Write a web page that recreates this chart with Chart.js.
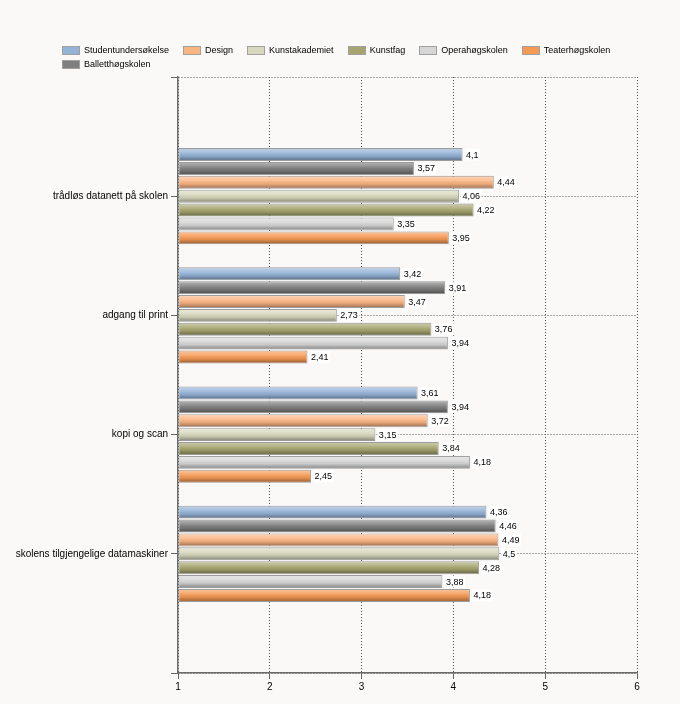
<!DOCTYPE html>
<html>
<head>
<meta charset="utf-8">
<script src="https://cdn.jsdelivr.net/npm/chart.js@4.4.1/dist/chart.umd.min.js"></script>
<style>
    body { margin: 0; background: #faf9f7; }
    #wrap { position: relative; width: 680px; height: 704px; }
    #legend {
        position: absolute; left: 62px; top: 43px;
        display: grid; grid-template-columns: repeat(6, auto); column-gap: 14px;
        font: 9px "Liberation Sans", Arial, sans-serif; color: #000;
    }
    #legend .item { display: flex; align-items: center; height: 14px; }
    #legend .box { width: 16px; height: 7px; border: 1px solid #a0a0a0; margin-right: 4px; }
</style>
</head>
<body>
<div id="wrap">
    <canvas id="chart" width="680" height="704"></canvas>
    <div id="legend"></div>
</div>
<script>
const categories = ['trådløs datanett på skolen', 'adgang til print', 'kopi og scan', 'skolens tilgjengelige datamaskiner'];
const seriesNames = ['Studentundersøkelse', 'Balletthøgskolen', 'Design', 'Kunstakademiet', 'Kunstfag', 'Operahøgskolen', 'Teaterhøgskolen'];
const studentundersokelse = [4.1, 3.42, 3.61, 4.36];
const balletthogskolen = [3.57, 3.91, 3.94, 4.46];
const design = [4.44, 3.47, 3.72, 4.49];
const kunstakademiet = [4.06, 2.73, 3.15, 4.5];
const kunstfag = [4.22, 3.76, 3.84, 4.28];
const operahogskolen = [3.35, 3.94, 4.18, 3.88];
const teaterhogskolen = [3.95, 2.41, 2.45, 4.18];
const xTicks = [1, 2, 3, 4, 5, 6];
const legendOrder = [0, 2, 3, 4, 5, 6, 1];

const seriesValues = [studentundersokelse, balletthogskolen, design, kunstakademiet, kunstfag, operahogskolen, teaterhogskolen];
const seriesColors = ['#95b3d7', '#7f7f7f', '#fbb584', '#d8d8be', '#a6a56f', '#d6d6d6', '#f59a55'];

// empty slot above and below so the categories sit like the original
const labels = [''].concat(categories, ['']);

const datasets = seriesValues.map(function(vals, i) {
    return {
        label: seriesNames[i],
        data: [null].concat(vals, [null]),
        backgroundColor: seriesColors[i],
        borderColor: '#9c9c9c',
        borderWidth: 1,
        borderSkipped: false,
        base: 1,
        categoryPercentage: 0.815,
        barPercentage: 0.93
    };
});

// legend
const legendEl = document.getElementById('legend');
legendOrder.forEach(function(i) {
    const item = document.createElement('div');
    item.className = 'item';
    item.innerHTML = '<span class="box" style="background:' + seriesColors[i] + '"></span>' + seriesNames[i];
    legendEl.appendChild(item);
});

const barDecor = {
    id: 'barDecor',
    afterDatasetsDraw(chart) {
        const ctx = chart.ctx;
        ctx.save();
        ctx.font = '9px "Liberation Sans", Arial, sans-serif';
        ctx.textBaseline = 'middle';
        chart.data.datasets.forEach(function(ds, di) {
            const meta = chart.getDatasetMeta(di);
            meta.data.forEach(function(el, i) {
                const v = ds.data[i];
                if (v == null) return;
                const p = el.getProps(['x', 'y', 'base', 'height'], true);
                const top = p.y - p.height / 2;
                const g = ctx.createLinearGradient(0, top, 0, top + p.height);
                g.addColorStop(0, 'rgba(255,255,255,0.45)');
                g.addColorStop(0.4, 'rgba(255,255,255,0.1)');
                g.addColorStop(0.6, 'rgba(0,0,0,0.05)');
                g.addColorStop(1, 'rgba(0,0,0,0.4)');
                ctx.fillStyle = g;
                ctx.fillRect(p.base + 1, top + 1, p.x - p.base - 2, p.height - 2);

                const txt = String(v).replace('.', ',');
                const tw = ctx.measureText(txt).width;
                const x0 = p.x + 2;
                ctx.fillStyle = '#ffffff';
                ctx.fillRect(x0, p.y - 6, tw + 3, 12);
                ctx.fillStyle = '#000000';
                ctx.fillText(txt, x0 + 1.5, p.y + 0.5);
            });
        });
        ctx.restore();
    }
};

const ctx = document.getElementById('chart').getContext('2d');
const myChart = new Chart(ctx, {
    type: 'bar',
    data: { labels: labels, datasets: datasets },
    plugins: [barDecor],
    options: {
        indexAxis: 'y',
        responsive: false,
        animation: false,
        layout: { padding: { top: 77, right: 43, left: 0, bottom: 0 } },
        plugins: {
            legend: { display: false },
            tooltip: { enabled: false }
        },
        scales: {
            x: {
                min: 1,
                max: 6,
                afterBuildTicks: function(scale) {
                    scale.ticks = xTicks.map(function(v) { return { value: v }; });
                },
                afterFit: function(scale) { scale.height = 31; },
                grid: { color: '#555', tickColor: '#666', tickLength: 6, lineWidth: 1 },
                border: { color: '#6a6a6a', width: 1.5, dash: [1, 2] },
                ticks: {
                    color: '#000',
                    padding: 2,
                    font: { family: '"Liberation Sans", Arial, sans-serif', size: 10 }
                }
            },
            y: {
                offset: false,
                afterFit: function(scale) { scale.width = 178; },
                grid: { offset: false, color: '#555', tickColor: '#666', tickLength: 7, lineWidth: 1 },
                border: { color: '#6a6a6a', width: 1.5, dash: [1, 2] },
                ticks: {
                    color: '#000',
                    padding: 3,
                    autoSkip: false,
                    font: { family: '"Liberation Sans", Arial, sans-serif', size: 10 }
                }
            }
        }
    }
});
</script>
</body>
</html>
